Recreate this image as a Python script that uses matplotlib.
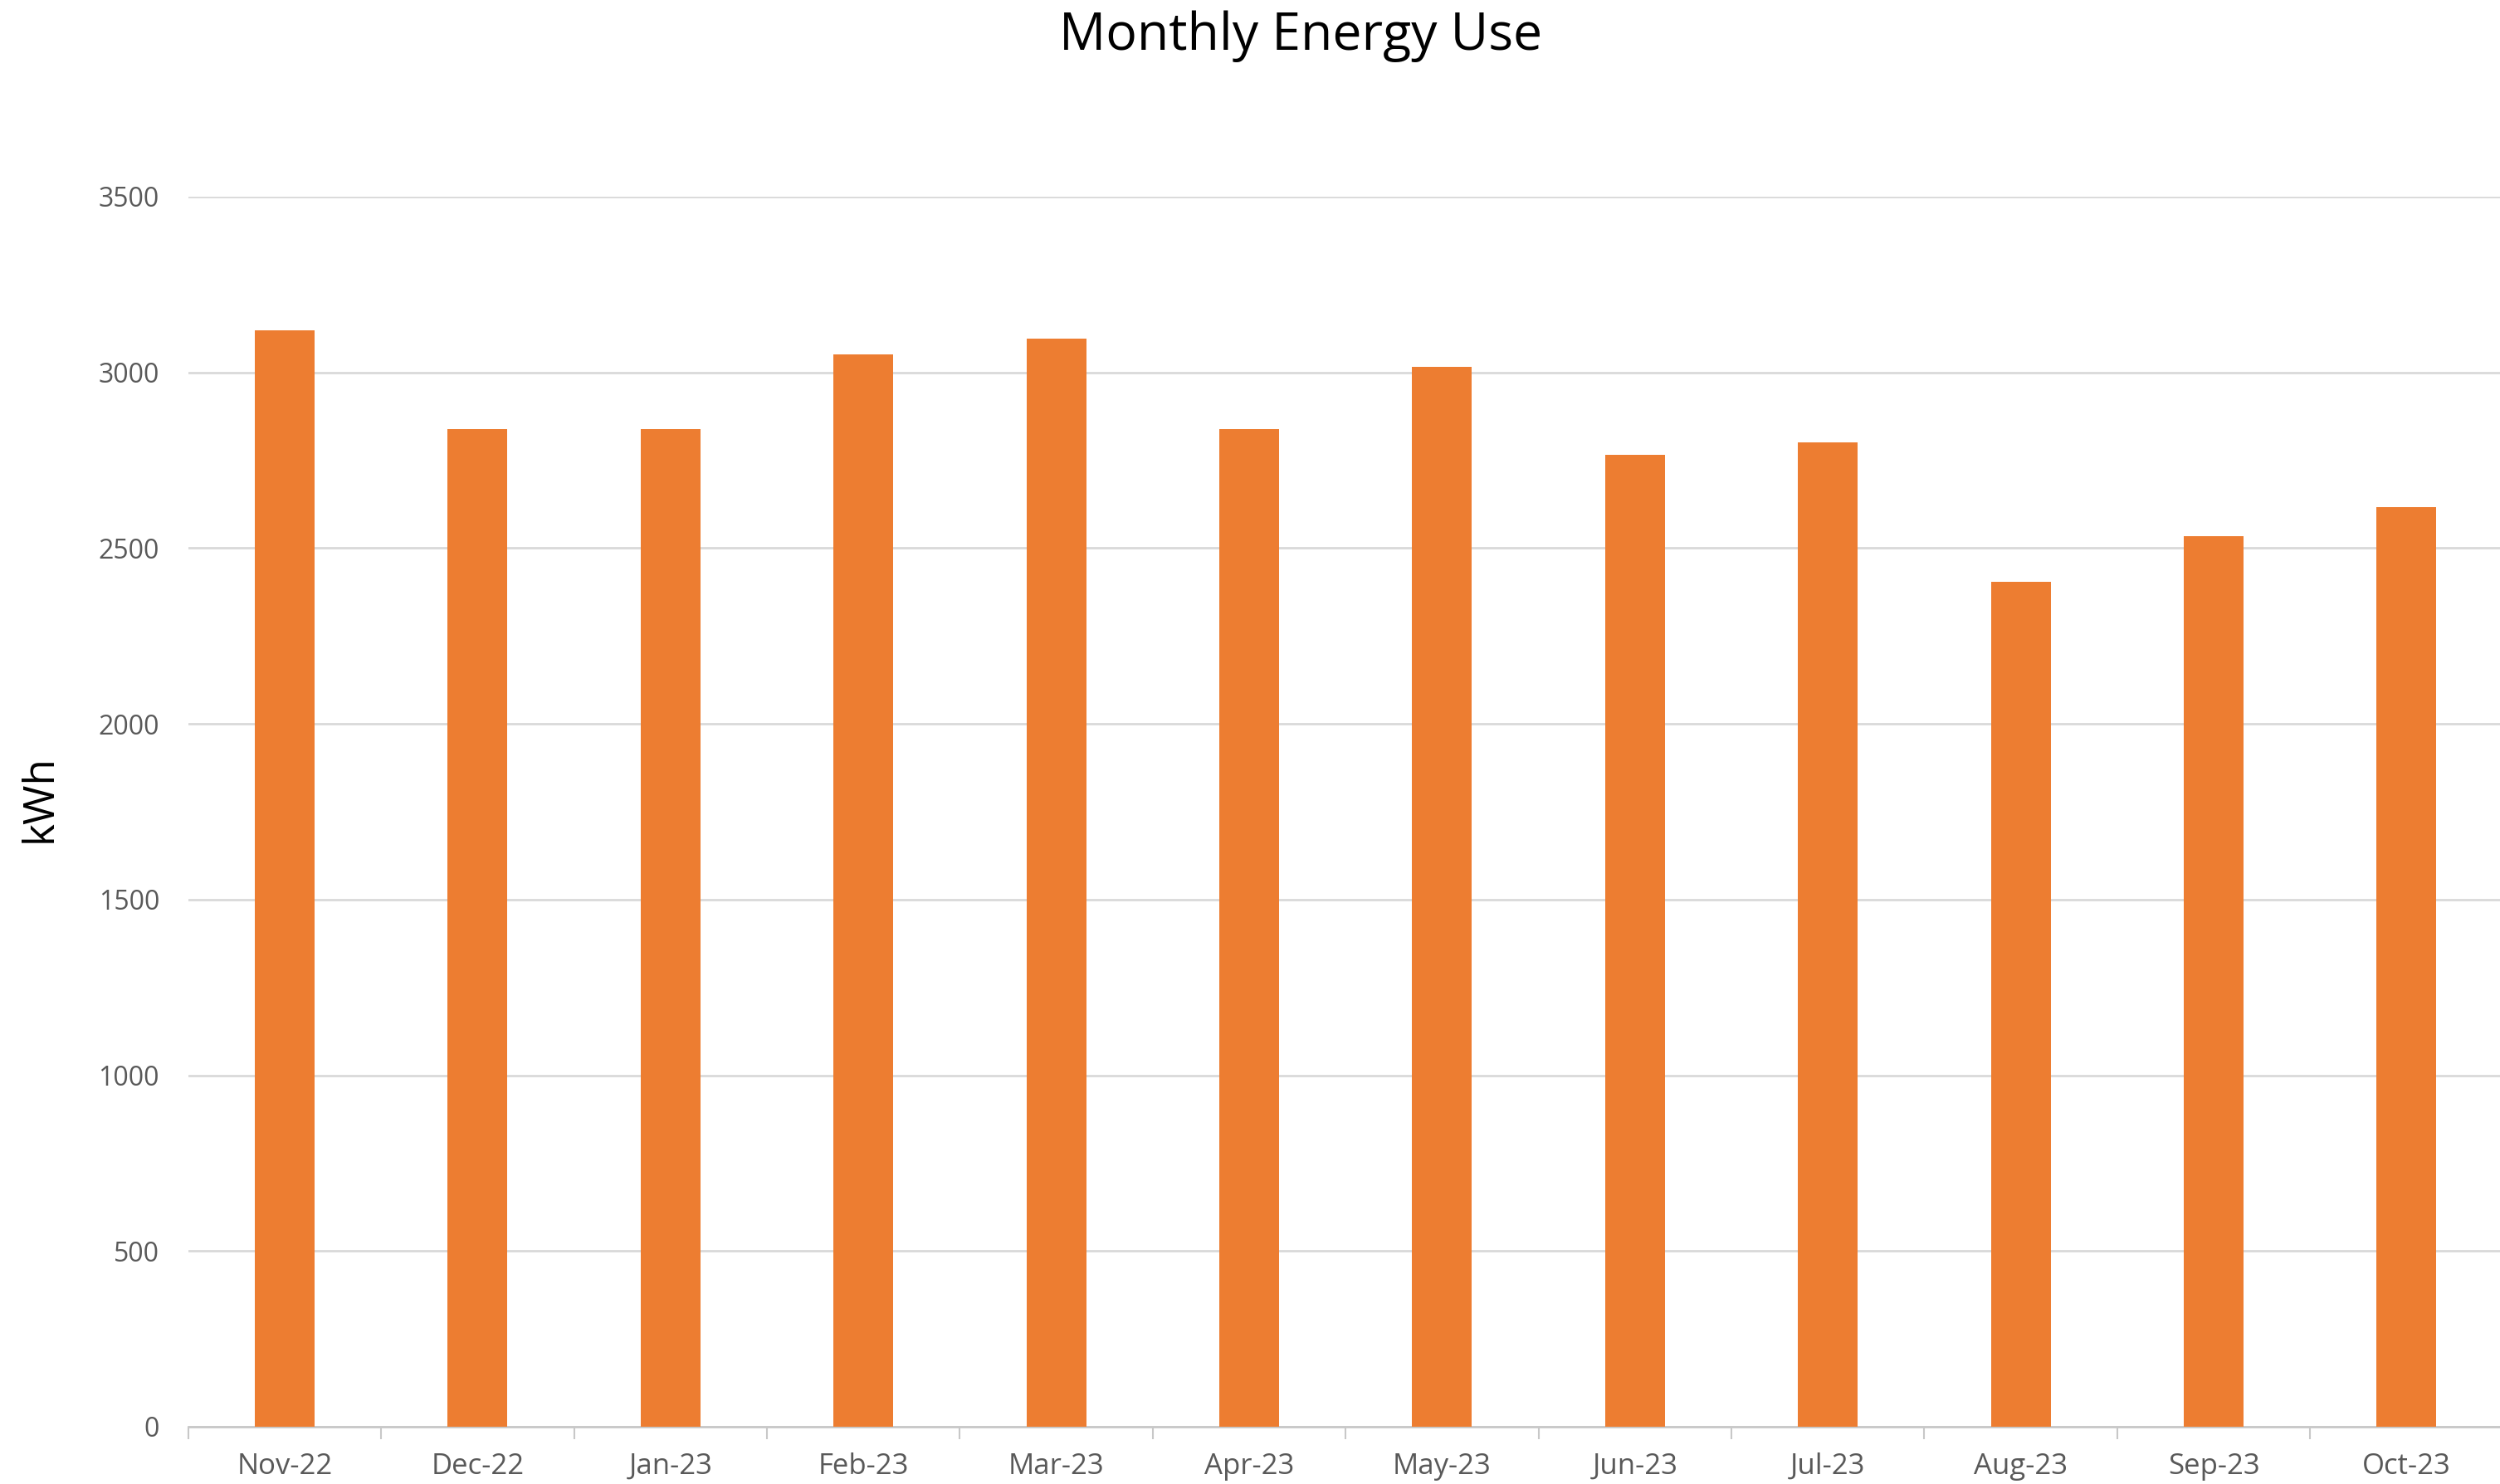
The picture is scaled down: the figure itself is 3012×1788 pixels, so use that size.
import numpy as np
import matplotlib
matplotlib.use("Agg")
import matplotlib.pyplot as plt

months = ['Nov-22', 'Dec-22', 'Jan-23', 'Feb-23', 'Mar-23', 'Apr-23',
          'May-23', 'Jun-23', 'Jul-23', 'Aug-23', 'Sep-23', 'Oct-23']
kwh = [3120, 2838, 2838, 3052, 3096, 2838, 3015, 2765, 2801, 2403, 2534, 2616]
yticks = [0, 500, 1000, 1500, 2000, 2500, 3000, 3500]

plt.rcParams['font.family'] = ['Open Sans', 'DejaVu Sans']

fig = plt.figure(figsize=(30.12, 17.88), dpi=100)
ax = fig.add_axes([0.0753, 0.0386, 0.9259, 0.8289])

x = np.arange(len(months))
ax.bar(x, kwh, width=0.31, color='#ED7D31', zorder=3)

ax.set_xlim(-0.5, len(months) - 0.5)
ax.set_ylim(0, 3500)
ax.set_yticks(yticks)
ax.set_yticklabels([str(v) for v in yticks])
ax.yaxis.grid(True, color='#d9d9d9', linewidth=2, zorder=0)

ax.set_xticks(x)
ax.set_xticklabels(months)
ax.set_xticks(np.arange(len(months) + 1) - 0.5, minor=True)
ax.tick_params(axis='x', which='major', length=0, pad=22, labelsize=25, labelcolor='#595959')
ax.tick_params(axis='x', which='minor', length=11, width=1.5, color='#c8c8c8')
ax.tick_params(axis='y', length=0, pad=25, labelsize=23, labelcolor='#595959')

for s in ['top', 'right', 'left']:
    ax.spines[s].set_visible(False)
ax.spines['bottom'].set_color('#c8c8c8')
ax.spines['bottom'].set_linewidth(2)

fig.text(0.5203, 0.9755, 'Monthly Energy Use', ha='center', va='center', fontsize=45, color='black')
fig.text(0.016, 0.462, 'kWh', ha='center', va='center', rotation=90, fontsize=37, color='black')

fig.savefig('out.png', dpi=100, facecolor='white')
